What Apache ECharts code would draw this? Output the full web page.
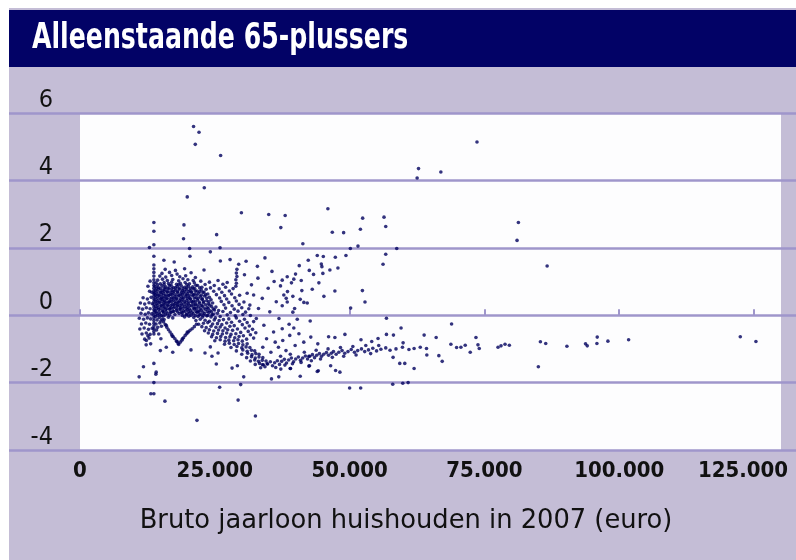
<!DOCTYPE html>
<html><head><meta charset="utf-8">
<script src="https://cdn.jsdelivr.net/npm/echarts@6/dist/echarts.min.js"></script>
<style>html,body{margin:0;padding:0;background:#fff}#c{width:796px;height:560px}</style>
</head><body><div id="c"></div>
<script>
// x: bruto jaarloon huishouden (x 1000 euro), y: deviation
const xTickValues = [0, 25, 50, 75, 100, 125];
const xTickLabels = ['0', '25.000', '50.000', '75.000', '100.000', '125.000'];
const yTickValues = [-4, -2, 0, 2, 4, 6];
const yTickLabels = ['-4', '-2', '0', '2', '4', '6'];
const titleText = 'Alleenstaande 65-plussers';
const xAxisTitle = 'Bruto jaarloon huishouden in 2007 (euro)';

const verticalColumn = [[13.7,2.75],[13.7,2.49],[13.7,2.09],[13.7,1.75],[13.7,1.49],[13.7,1.38],[13.7,1.27],[13.7,1.16],[13.7,1.05],[13.7,0.96],[13.7,0.88],[13.7,0.8],[13.7,0.72],[13.7,0.64],[13.7,0.56],[13.7,0.48],[13.7,0.4],[13.7,0.32],[13.7,0.24],[13.7,0.16],[13.7,0.08],[13.7,0.0],[13.7,-0.08],[13.7,-0.16],[13.7,-0.24],[13.7,-0.32],[13.7,-0.4],[13.7,-0.48],[13.7,-0.56],[13.7,-1.43],[13.7,-2.0],[13.7,-2.33]];

const coreBlob = [[15.8,1.36],[17.7,1.33],[19.4,1.38],
[15.2,1.24],[16.6,1.27],[18.0,1.22],[20.6,1.26],
[14.8,1.16],[15.9,1.13],[17.0,1.18],[18.5,1.14],[19.6,1.17],[21.4,1.12],
[14.4,1.04],[15.3,1.07],[16.2,1.03],[17.2,1.06],[18.3,1.02],[19.1,1.08],[20.0,1.05],[21.0,1.03],
[14.1,0.96],[14.9,0.93],[15.6,0.97],[16.4,0.94],[17.0,0.98],[17.9,0.92],[18.6,0.95],[19.5,0.97],[20.3,0.93],[21.2,0.96],
[13.9,0.86],[14.5,0.83],[15.2,0.87],[15.9,0.84],[16.6,0.88],[17.3,0.82],[18.0,0.85],[18.8,0.87],[19.4,0.83],[20.1,0.86],[20.9,0.84],[21.8,0.88],[22.6,0.83],
[14.0,0.74],[14.6,0.77],[15.3,0.73],[15.8,0.76],[16.5,0.78],[17.1,0.72],[17.7,0.75],[18.4,0.77],[19.0,0.73],[19.7,0.76],[20.4,0.74],[21.0,0.78],[21.7,0.72],[22.5,0.75],[23.4,0.77],
[13.8,0.66],[14.3,0.63],[14.9,0.67],[15.5,0.64],[16.2,0.68],[16.8,0.62],[17.4,0.65],[18.1,0.67],[18.7,0.63],[19.3,0.66],[19.9,0.64],[20.6,0.68],[21.3,0.62],[22.0,0.65],[22.8,0.67],[23.7,0.63],
[14.1,0.54],[14.7,0.57],[15.2,0.53],[15.8,0.56],[16.4,0.58],[17.0,0.52],[17.6,0.55],[18.3,0.57],[18.9,0.53],[19.6,0.56],[20.2,0.54],[20.9,0.58],[21.5,0.52],[22.3,0.55],[23.1,0.57],[24.0,0.53],
[13.9,0.46],[14.4,0.43],[15.0,0.47],[15.6,0.44],[16.1,0.48],[16.7,0.42],[17.3,0.45],[17.9,0.47],[18.5,0.43],[19.1,0.46],[19.8,0.44],[20.4,0.48],[21.1,0.42],[21.8,0.45],[22.6,0.47],[23.5,0.43],[24.3,0.46],
[14.2,0.34],[14.8,0.37],[15.4,0.33],[15.9,0.36],[16.5,0.38],[17.1,0.32],[17.7,0.35],[18.2,0.37],[18.8,0.33],[19.5,0.36],[20.1,0.34],[20.8,0.38],[21.4,0.32],[22.2,0.35],[22.9,0.37],[23.8,0.33],[24.6,0.36],
[14.0,0.26],[14.5,0.23],[15.1,0.27],[15.7,0.24],[16.3,0.28],[16.9,0.22],[17.5,0.25],[18.1,0.27],[18.7,0.23],[19.4,0.26],[20.0,0.24],[20.7,0.28],[21.3,0.22],[22.0,0.25],[22.7,0.27],[23.6,0.23],[24.4,0.26],[25.2,0.24],
[13.9,0.14],[14.6,0.17],[15.3,0.13],[15.9,0.16],[16.6,0.18],[17.2,0.12],[17.9,0.15],[18.6,0.17],[19.2,0.13],[19.9,0.16],[20.5,0.14],[21.2,0.18],[21.9,0.12],[22.5,0.15],[23.3,0.17],[24.1,0.13],[24.9,0.16],[25.7,0.14],
[14.2,0.06],[14.8,0.03],[15.5,0.07],[16.2,0.04],[16.9,0.08],[17.6,0.02],[18.4,0.05],[19.0,0.07],[19.7,0.03],[20.3,0.06],[21.0,0.04],[21.7,0.08],[22.4,0.02],[23.1,0.05],[23.9,0.07],[24.7,0.03],[25.5,0.06],
[14.0,-0.04],[14.7,-0.07],[15.4,-0.03],[16.4,-0.06],[17.2,-0.08],[19.4,-0.05],[20.2,-0.03],[21.1,-0.07],[21.9,-0.04],[22.7,-0.06],[23.5,-0.02],[24.3,-0.05],[25.1,-0.08],[26.0,-0.04],
[14.3,-0.14],[15.0,-0.17],[15.6,-0.13],[21.5,-0.16],[22.3,-0.12],[23.2,-0.15],[24.0,-0.18],[24.9,-0.14],[25.8,-0.16],[26.6,-0.13],
[14.1,-0.26],[14.8,-0.23],[22.0,-0.27],[22.9,-0.24],[23.7,-0.22],[24.6,-0.26],[25.5,-0.25],[26.3,-0.28],[27.2,-0.23],
[14.4,-0.36],[15.1,-0.33],[22.6,-0.34],[23.4,-0.37],[24.3,-0.33],[25.2,-0.36],[26.0,-0.35],[26.9,-0.38],[27.8,-0.33],
[14.2,-0.44],[23.1,-0.46],[24.0,-0.43],[24.8,-0.47],[25.7,-0.44],[26.5,-0.46],[27.4,-0.43],[28.3,-0.45],
[14.6,-0.56],[23.8,-0.53],[24.6,-0.57],[25.5,-0.54],[26.4,-0.56],[27.2,-0.53],[28.0,-0.57],[28.9,-0.55],
[24.4,-0.64],[25.3,-0.67],[26.1,-0.63],[27.0,-0.66],[27.8,-0.64],[28.7,-0.67],[29.5,-0.63],
[25.0,-0.76],[26.0,-0.73],[26.9,-0.77],[27.6,-0.74],[28.5,-0.76],[29.3,-0.73],[30.1,-0.77],
[12.3,-0.75],[13.1,-0.85],[15.0,-0.7],[16.0,-0.95],[14.9,-1.05],[17.2,-1.1]];

const coreFill = [[14.4,0.9],[15.6,0.91],[16.9,0.89],[18.3,0.9],[19.8,0.91],[21.5,0.89],
[14.2,0.8],[14.9,0.79],[15.6,0.81],[16.3,0.8],[17.0,0.79],[17.7,0.81],[18.4,0.8],[19.1,0.79],[19.8,0.81],[20.5,0.8],[21.3,0.79],[22.2,0.81],
[14.3,0.7],[15.0,0.69],[15.6,0.71],[16.2,0.7],[16.8,0.69],[17.4,0.71],[18.1,0.7],[18.8,0.69],[19.4,0.71],[20.1,0.7],[20.7,0.69],[21.4,0.71],[22.2,0.7],[23.0,0.69],
[14.0,0.6],[14.6,0.59],[15.2,0.61],[15.9,0.6],[16.5,0.59],[17.1,0.61],[17.8,0.6],[18.4,0.59],[19.0,0.61],[19.7,0.6],[20.3,0.59],[21.0,0.61],[21.7,0.6],[22.5,0.59],[23.3,0.61],
[14.4,0.5],[15.0,0.49],[15.5,0.51],[16.1,0.5],[16.7,0.49],[17.3,0.51],[17.9,0.5],[18.6,0.49],[19.2,0.51],[19.9,0.5],[20.5,0.49],[21.2,0.51],[21.9,0.5],[22.7,0.49],[23.5,0.51],
[14.1,0.4],[14.7,0.39],[15.3,0.41],[15.8,0.4],[16.4,0.39],[17.0,0.41],[17.6,0.4],[18.2,0.39],[18.8,0.41],[19.4,0.4],[20.1,0.39],[20.7,0.41],[21.4,0.4],[22.1,0.39],[22.9,0.41],[23.9,0.4],
[14.4,0.3],[15.0,0.29],[15.6,0.31],[16.2,0.3],[16.8,0.29],[17.4,0.31],[18.0,0.3],[18.5,0.29],[19.1,0.31],[19.8,0.3],[20.4,0.29],[21.1,0.31],[21.7,0.3],[22.5,0.29],[23.3,0.31],[24.1,0.3],
[14.2,0.2],[14.9,0.19],[15.5,0.21],[16.1,0.2],[16.7,0.19],[17.3,0.21],[17.9,0.2],[18.5,0.19],[19.1,0.21],[19.7,0.2],[20.3,0.19],[21.0,0.21],[21.6,0.2],[22.3,0.19],[23.0,0.21],[23.8,0.2],[24.7,0.19],
[14.1,0.1],[14.7,0.09],[15.4,0.11],[16.0,0.1],[16.7,0.09],[17.4,0.11],[18.1,0.1],[18.8,0.09],[19.5,0.11],[20.1,0.1],[20.8,0.09],[21.5,0.11],[22.1,0.1],[22.8,0.09],[23.6,0.11],[24.4,0.1],
[14.4,0.0],[15.1,-0.01],[15.8,0.01],[16.6,0.0],[19.0,-0.01],[19.8,0.01],[20.6,0.0],[21.4,-0.01],[22.1,0.01],[22.9,0.0],[23.7,-0.01],[24.5,0.01]];

const leftEdge = [[12.9,0.71],[13.3,0.68],[11.7,0.52],[12.5,0.48],[13.2,0.53],[11.2,0.36],[12.0,0.33],[12.8,0.37],[13.4,0.34],[10.9,0.21],[11.6,0.18],[12.3,0.22],[13.0,0.19],[11.3,0.06],[12.1,0.03],[12.7,0.07],[13.3,0.04],[11.0,-0.09],[11.8,-0.12],[12.5,-0.08],[13.1,-0.11],[11.4,-0.26],[12.2,-0.23],[12.9,-0.27],[11.1,-0.41],[11.9,-0.38],[12.7,-0.42],[13.4,-0.39],[11.5,-0.56],[12.3,-0.53],[13.0,-0.57],[12.0,-0.71],[12.8,-0.68],[12.6,0.86],[13.0,1.01]];

const vNotch = [[15.2,-0.12],[15.5,-0.2],[15.8,-0.28],[16.1,-0.36],[16.4,-0.43],[16.7,-0.5],[17.0,-0.57],[17.3,-0.64],[17.6,-0.7],[17.9,-0.77],[18.2,-0.84],[18.3,-0.87],[18.6,-0.8],[18.9,-0.74],[19.2,-0.67],[19.5,-0.6],[19.8,-0.55],[20.1,-0.5],[20.4,-0.45],[20.8,-0.4],[21.2,-0.34],[21.6,-0.27],[16.0,-0.3],[17.1,-0.62],[18.0,-0.78],[19.0,-0.7],[19.9,-0.5]];

const rightBlob = [[22.4,1.01],[24.0,0.98],[25.6,1.03],[27.3,0.97],[23.2,0.91],[24.9,0.88],[26.5,0.92],[24.2,0.81],[25.8,0.78],[27.0,0.83],[28.4,0.79],[24.8,0.71],[26.3,0.68],[27.7,0.72],[25.3,0.61],[26.8,0.58],[28.1,0.63],[29.6,0.59],[25.9,0.51],[27.2,0.48],[28.7,0.52],[26.2,0.41],[27.6,0.38],[29.0,0.42],[30.4,0.39],[26.7,0.31],[28.2,0.28],[29.5,0.32],[27.0,0.21],[28.6,0.18],[30.0,0.22],[31.3,0.19],[26.5,0.11],[27.9,0.08],[29.3,0.12],[30.7,0.09],[27.3,0.01],[28.8,-0.02],[30.2,0.02],[31.6,-0.01],[27.6,-0.11],[29.0,-0.08],[30.5,-0.12],[28.1,-0.21],[29.6,-0.18],[31.0,-0.22],[32.2,-0.19],[28.6,-0.31],[30.1,-0.28],[31.4,-0.32],[29.2,-0.41],[30.6,-0.38],[32.0,-0.42],[29.8,-0.51],[31.2,-0.48],[32.6,-0.52],[30.3,-0.61],[31.6,-0.58],[30.9,-0.71],[32.2,-0.68],
[29.1,1.36],[29.0,1.25],[29.1,1.15],[28.9,1.05],[29.0,0.95],[28.9,0.86]];

const descendingTail = [[26.8,-0.86],[27.7,-0.83],[28.6,-0.87],[29.4,-0.84],[30.2,-0.88],[31.0,-0.85],
[28.0,-0.96],[29.1,-0.93],[30.0,-0.97],[30.8,-0.94],[31.5,-0.96],
[29.0,-1.06],[30.2,-1.03],[31.0,-1.07],[31.8,-1.04],[32.4,-1.06],
[30.0,-1.16],[31.1,-1.13],[31.9,-1.17],[32.6,-1.14],[33.2,-1.16],
[30.9,-1.26],[31.8,-1.23],[32.5,-1.27],[33.2,-1.24],[33.9,-1.26],
[31.6,-1.36],[32.4,-1.33],[33.1,-1.37],[33.8,-1.34],[34.5,-1.36],
[32.5,-1.46],[33.3,-1.43],[34.0,-1.47],[34.7,-1.44],
[33.5,-1.56],[34.3,-1.53]];

const lowBand = [[34.8,-1.45],[35.3,-1.38],[35.7,-1.5],[36.1,-1.41],[36.6,-1.35],[37.0,-1.46],[37.4,-1.37],[37.9,-1.31],[38.3,-1.42],[38.7,-1.33],[39.2,-1.27],[39.6,-1.38],[40.0,-1.3],[40.5,-1.24],[40.9,-1.34],[41.3,-1.27],[41.8,-1.21],[42.2,-1.3],[42.6,-1.22],[43.1,-1.17],[43.5,-1.26],[43.9,-1.19],[44.4,-1.14],[44.8,-1.22],[45.2,-1.16],[45.7,-1.11],[46.1,-1.19],[46.6,-1.13],[47.0,-1.08],[47.5,-1.16],[48.0,-1.1],[48.6,-1.05],[49.1,-1.13],[49.7,-1.08],[50.3,-1.02],[50.9,-1.1],[51.5,-1.05],[52.2,-1.0],[52.8,-1.08],[53.5,-1.03],[54.3,-0.98],[55.0,-1.06],[55.8,-1.01],[56.7,-0.97],[57.5,-1.04],[58.6,-1.0],[59.8,-0.95],[61.0,-1.02],
[36.3,-1.55],[38.0,-1.48],[39.4,-1.44],[41.0,-1.4],[42.9,-1.35],[44.6,-1.3],[46.8,-1.25],[48.9,-1.22],[51.2,-1.18],[53.9,-1.14],[37.2,-1.22],[39.0,-1.16],[41.6,-1.1],[43.8,-1.04],[46.0,-1.0],[48.3,-0.96],[50.6,-0.93],[53.0,-0.9],[55.4,-0.9],
[33.9,-0.95],[35.4,-1.1],[36.8,-0.95],[38.2,-1.05],[37.6,-0.75],[39.9,-0.9],[41.5,-0.8],[42.8,-0.65],[44.1,-0.85],[40.6,-0.55]];

const upperCloud = [[30.5,1.2],[31.8,0.9],[33.0,1.1],[32.2,0.6],[33.8,0.5],[34.9,0.8],[35.6,1.3],[36.4,0.4],[35.2,0.1],[36.9,-0.1],[37.8,0.6],[34.1,-0.3],[35.9,-0.5],[33.1,0.2],[31.5,0.3],[32.7,-0.1],[34.6,-0.7],[36.2,-0.8],[37.5,-0.4],[38.9,-0.6],[39.8,0.2],[36.0,1.0],[31.0,0.65],[32.9,1.45],[34.3,1.7],[30.8,1.6]];

const outliers = [[21.06,5.6],[22.07,5.43],[21.38,5.07],[26.08,4.74],[23.05,3.78],[19.89,3.51],[29.93,3.04],[35.0,2.99],[38.05,2.96],[19.28,2.68],[37.24,2.6],[25.34,2.39],[19.2,2.27],
[73.62,5.14],[62.78,4.35],[66.92,4.25],[62.52,4.07],[45.97,3.16],[52.42,2.88],[56.38,2.91],[56.7,2.63],[46.79,2.46],[48.89,2.45],[52.0,2.55],[81.3,2.75],[81.05,2.22],[41.33,2.12],[51.55,2.05],[50.14,1.98],[58.74,1.98],[56.7,1.81],[56.2,1.51],[49.32,1.77],[44.0,1.77],[45.12,1.74],[47.35,1.72],[42.33,1.63],[40.66,1.47],[44.75,1.52],[44.86,1.44],[47.83,1.4],[46.34,1.34],[42.52,1.33],[43.31,1.21],[45.04,1.24],[38.43,1.14],[39.97,1.22],[39.65,1.07],[41.03,1.03],[39.22,0.96],[44.3,0.96],[37.18,0.87],[37.5,1.04],[47.27,0.72],[52.37,0.73],[43.07,0.77],[45.23,0.56],[38.48,0.7],[38.24,0.5],[39.47,0.56],[41.14,0.73],[40.84,0.47],[41.51,0.38],[42.14,0.36],[52.85,0.39],[50.19,0.21],[39.47,0.09],[37.5,0.28],[38.43,0.39],
[56.83,-0.09],[42.69,-0.17],[68.91,-0.26],[59.54,-0.38],[38.78,-0.27],[39.65,-0.38],[40.29,-0.12],[49.13,-0.57],[46.1,-0.64],[47.27,-0.66],[52.11,-0.73],[54.1,-0.78],[55.27,-0.69],[56.83,-0.57],[58.13,-0.59],[63.82,-0.59],[66.05,-0.66],[73.43,-0.66],[59.92,-0.82],[64.26,-0.99],[61.96,-0.99],[63.1,-0.95],[68.78,-0.86],[69.84,-0.96],[71.44,-0.89],[70.64,-0.95],[72.37,-1.1],[73.8,-0.88],[74.04,-0.99],[78.08,-0.91],[78.82,-0.86],[79.62,-0.89],[77.52,-0.95],[85.38,-0.79],[85.0,-1.53],[64.32,-1.18],[66.55,-1.2],[67.17,-1.37],[61.96,-1.58],[59.3,-1.43],[60.23,-1.43],[58.06,-1.25],[58.0,-2.05],[59.86,-2.02],[60.85,-2.0],[50.0,-2.16],[52.05,-2.16],[40.84,-1.81],[44.19,-1.65],[47.4,-1.64],[48.2,-1.69],[46.48,-1.5],[42.44,-1.51],[38.98,-1.58],
[86.37,-0.84],[90.3,-0.92],[93.75,-0.85],[94.07,-0.91],[95.92,-0.65],[95.86,-0.84],[97.9,-0.77],[101.74,-0.73],[122.45,-0.64],[125.35,-0.78],[86.63,1.46],
[12.88,2.01],[15.56,1.63],[17.47,1.58],[20.39,1.75],[20.32,1.98],[25.97,2.0],[24.17,1.88],[23.0,1.34],[26.03,1.61],[27.83,1.65],[29.43,1.51],
[11.77,-1.53],[10.97,-1.83],[14.07,-1.75],[14.13,-1.69],[13.14,-2.33],[15.75,-2.55],[21.69,-3.12],[25.9,-2.14],[29.8,-2.06],[29.32,-2.52],[32.53,-2.99],[12.27,-0.88],[12.59,-0.61],[20.58,-1.03],[23.18,-1.12],[24.17,-0.94],[25.6,-1.12],[24.47,-1.22],[25.28,-1.45],[28.2,-1.57],[29.19,-1.5],[30.36,-1.83],[33.83,-1.47],[35.51,-1.89],[36.86,-1.83],[44.0,-1.67],[42.57,-1.5],[37.24,-1.6],[39.04,-1.58],[42.44,-1.22]];

const allPoints = [].concat(verticalColumn, coreBlob, coreFill, leftEdge, vNotch, rightBlob, descendingTail, lowBand, upperCloud, outliers);

const FONT = "'Liberation Sans Narrow','DejaVu Sans Condensed','Open Sans',sans-serif";
const LAV = '#c4bdd6';
const GRIDC = '#9f96cb';
const NAVY = '#020266';

const chart = echarts.init(document.getElementById('c'), null, {renderer: 'canvas'});
chart.setOption({
  animation: false,
  backgroundColor: '#ffffff',
  graphic: [
    {type: 'rect', z: -10, shape: {x: 9, y: 8, width: 787, height: 552}, style: {fill: LAV}},
    {type: 'rect', z: -9, shape: {x: 9, y: 10, width: 787, height: 57}, style: {fill: NAVY}},
    {type: 'text', z: 10, x: 32, y: 39, scaleX: 0.8, style: {text: titleText, fill: '#ffffff', font: 'bold 35px ' + FONT, textVerticalAlign: 'middle', textAlign: 'left'}},
    {type: 'text', z: 10, x: 406, y: 521, scaleX: 1.06, style: {text: xAxisTitle, fill: '#111111', font: '27px ' + FONT, textVerticalAlign: 'middle', textAlign: 'center'}}
  ],
  grid: [
    {left: 80, right: 15, top: 113, bottom: 110, show: true, backgroundColor: '#fdfdfe', borderWidth: 0, z: 0, outerBoundsMode: 'none', containLabel: false},
    {left: 9, right: 0, top: 113, bottom: 110, show: false, z: 1, outerBoundsMode: 'none', containLabel: false}
  ],
  xAxis: [
    {gridIndex: 0, type: 'value', min: 0, max: 130, z: 3,
     axisLine: {show: false}, splitLine: {show: false},
     axisTick: {show: true, inside: true, length: 6, customValues: xTickValues, lineStyle: {color: GRIDC, width: 2}},
     axisLabel: {customValues: xTickValues, margin: 10, color: '#111', fontFamily: FONT, fontWeight: 'bold', fontSize: 22,
       rich: {last: {color: '#111', fontFamily: FONT, fontWeight: 'bold', fontSize: 22, padding: [0, 22, 0, 0]}},
       formatter: v => {
         const i = xTickValues.indexOf(v);
         return i === xTickValues.length - 1 ? '{last|' + xTickLabels[i] + '}' : xTickLabels[i];
       }}},
    {gridIndex: 1, type: 'value', min: 0, max: 1, show: false}
  ],
  yAxis: [
    {gridIndex: 0, type: 'value', min: -4, max: 6, interval: 2, z: 3,
     axisLine: {show: false}, axisTick: {show: false}, splitLine: {show: false},
     axisLabel: {margin: 27, color: '#111', fontFamily: FONT, fontSize: 25, verticalAlign: 'bottom', lineHeight: 26,
       formatter: v => yTickLabels[yTickValues.indexOf(v)]}},
    {gridIndex: 1, type: 'value', min: -4, max: 6, interval: 2, z: 2,
     axisLine: {show: false}, axisTick: {show: false}, axisLabel: {show: false},
     splitLine: {show: true, lineStyle: {color: GRIDC, width: 2.5}}}
  ],
  series: [{
    type: 'scatter', xAxisIndex: 0, yAxisIndex: 0, z: 5,
    symbol: 'circle', symbolSize: 3.6,
    itemStyle: {color: '#00005e'},
    data: allPoints
  }]
});
</script>
</body></html>
